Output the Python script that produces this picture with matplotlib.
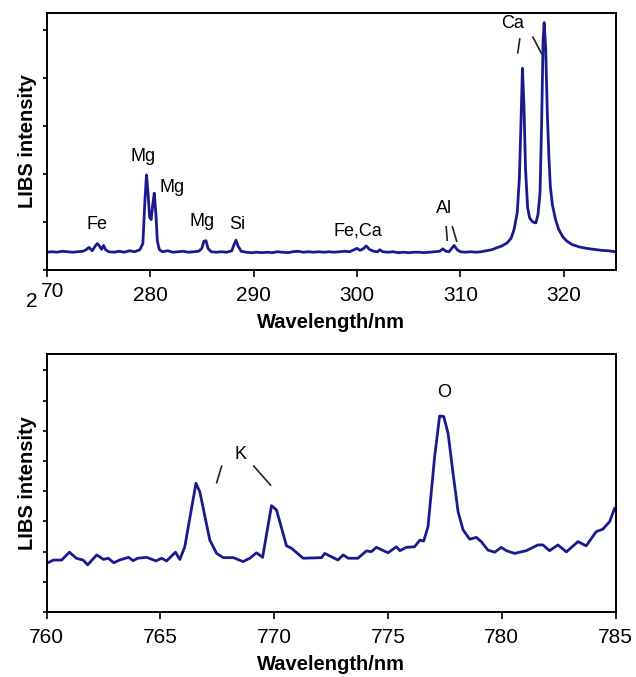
#!/usr/bin/env python

import matplotlib
matplotlib.use('Agg')
import matplotlib.pyplot as plt

plt.rcParams['font.family'] = ['Liberation Sans', 'DejaVu Sans']

# UV spectrum (270-325 nm)
wl_uv = [270.0, 270.5, 271.0, 271.5, 272.0, 272.5, 273.0, 273.5, 273.8, 274.1,
         274.4, 274.7, 274.9, 275.1, 275.3, 275.5, 275.7, 276.0, 276.5, 277.0,
         277.5, 278.0, 278.5, 279.0, 279.3, 279.5, 279.65, 279.8, 279.95, 280.1,
         280.25, 280.4, 280.55, 280.7, 280.9, 281.2, 281.7, 282.2, 282.7, 283.2,
         283.7, 284.2, 284.7, 285.0, 285.2, 285.4, 285.6, 285.9, 286.4, 286.9,
         287.4, 287.9, 288.1, 288.3, 288.5, 288.8, 289.3, 289.8, 290.3, 290.8,
         291.3, 291.8, 292.3, 292.8, 293.3, 293.8, 294.3, 294.8, 295.3, 295.8,
         296.3, 296.8, 297.3, 297.8, 298.3, 298.8, 299.3, 299.7, 300.0, 300.3,
         300.6, 300.9, 301.2, 301.6, 302.0, 302.2, 302.5, 303.0, 303.5, 304.0,
         304.5, 305.0, 305.5, 306.0, 306.5, 307.0, 307.5, 308.0, 308.3, 308.6,
         308.9, 309.2, 309.4, 309.7, 310.0, 310.5, 311.0, 311.5, 312.0, 312.5,
         313.0, 313.5, 314.0, 314.5, 314.9, 315.2, 315.5, 315.7, 315.85, 316.0,
         316.15, 316.3, 316.5, 316.7, 317.0, 317.3, 317.5, 317.7, 317.85, 318.0,
         318.1, 318.25, 318.4, 318.55, 318.7, 318.9, 319.2, 319.5, 319.9, 320.3,
         320.8, 321.5, 322.2, 322.9, 323.6, 324.3, 325.0]
int_uv = [0.37, 0.38, 0.37, 0.39, 0.38, 0.37, 0.38, 0.39, 0.42, 0.47,
          0.40, 0.50, 0.55, 0.50, 0.43, 0.51, 0.42, 0.38, 0.37, 0.39,
          0.37, 0.40, 0.38, 0.42, 0.55, 1.45, 1.98, 1.60, 1.10, 1.05,
          1.35, 1.60, 1.20, 0.60, 0.42, 0.38, 0.40, 0.37, 0.38, 0.39,
          0.37, 0.38, 0.39, 0.45, 0.60, 0.61, 0.45, 0.38, 0.37, 0.38,
          0.37, 0.40, 0.52, 0.62, 0.50, 0.39, 0.37, 0.36, 0.37, 0.36,
          0.37, 0.36, 0.38, 0.37, 0.36, 0.38, 0.39, 0.37, 0.38, 0.37,
          0.38, 0.37, 0.38, 0.37, 0.38, 0.39, 0.38, 0.42, 0.45, 0.41,
          0.44, 0.50, 0.43, 0.39, 0.38, 0.42, 0.38, 0.37, 0.38, 0.36,
          0.37, 0.36, 0.37, 0.37, 0.36, 0.37, 0.38, 0.39, 0.44, 0.39,
          0.38, 0.46, 0.51, 0.42, 0.38, 0.37, 0.38, 0.37, 0.38, 0.40,
          0.42, 0.46, 0.50, 0.56, 0.66, 0.85, 1.20, 1.90, 3.00, 4.20,
          3.40, 2.10, 1.30, 1.08, 1.00, 0.98, 1.15, 1.60, 3.00, 4.80,
          5.15, 4.60, 3.30, 2.40, 1.73, 1.35, 1.05, 0.85, 0.69, 0.60,
          0.53, 0.48, 0.45, 0.43, 0.41, 0.40, 0.38]

# NIR spectrum (760-785 nm)
wl_ir = [760.0, 760.3, 760.66, 761.0, 761.3, 761.6, 761.8, 762.2, 762.5, 762.7,
         762.95, 763.2, 763.6, 763.8, 764.0, 764.4, 764.8, 765.05, 765.27, 765.66,
         765.85, 766.07, 766.56, 766.73, 767.17, 767.47, 767.76, 768.2, 768.63, 768.93,
         769.22, 769.49, 769.88, 770.1, 770.54, 770.76, 771.27, 772.08, 772.22, 772.8,
         773.03, 773.25, 773.68, 774.05, 774.27, 774.49, 775.0, 775.37, 775.52, 775.81,
         776.17, 776.4, 776.57, 776.76, 777.05, 777.27, 777.45, 777.64, 777.86, 778.08,
         778.3, 778.59, 778.88, 779.1, 779.39, 779.69, 779.98, 780.2, 780.57, 781.08,
         781.59, 781.81, 782.1, 782.47, 782.84, 783.35, 783.71, 784.15, 784.44, 784.74,
         784.96]
int_ir = [1.61, 1.72, 1.72, 1.98, 1.78, 1.72, 1.56, 1.89, 1.74, 1.78,
          1.63, 1.72, 1.81, 1.70, 1.78, 1.81, 1.69, 1.78, 1.69, 1.98,
          1.74, 2.16, 4.26, 3.98, 2.38, 1.94, 1.80, 1.80, 1.67, 1.78,
          1.96, 1.81, 3.52, 3.38, 2.19, 2.11, 1.78, 1.80, 1.94, 1.72,
          1.89, 1.78, 1.78, 2.02, 2.00, 2.14, 1.96, 2.16, 2.03, 2.14,
          2.16, 2.38, 2.35, 2.83, 5.14, 6.49, 6.47, 5.92, 4.59, 3.32,
          2.72, 2.41, 2.47, 2.33, 2.05, 1.98, 2.14, 2.03, 1.94, 2.03,
          2.22, 2.22, 2.03, 2.22, 1.99, 2.33, 2.19, 2.66, 2.74, 2.99,
          3.43]

# peak labels: (text, x, y)
labels_uv = [('Fe', 274.9, 0.94), ('Mg', 279.33, 2.36), ('Mg', 282.17, 1.71),
             ('Mg', 284.98, 1.01), ('Si', 288.42, 0.95), ('Fe,Ca', 300.1, 0.81),
             ('Al', 308.4, 1.28), ('Ca', 315.0, 5.14)]
labels_ir = [('K', 768.52, 5.2), ('O', 777.45, 7.27)]

# little pointer strokes next to labels: (x0, y0, x1, y1)
marks_uv = [(315.55, 4.52, 315.74, 4.81), (317.01, 4.85, 317.83, 4.51),
            (308.73, 0.62, 308.63, 0.90), (309.23, 0.90, 309.64, 0.60)]
marks_ir = [(767.47, 4.28, 767.69, 4.83), (769.1, 4.83, 769.84, 4.2)]

line_color = '#1a1a8e'

fig = plt.figure(figsize=(6.36, 6.77), dpi=100)
ax1 = fig.add_axes([0.0734, 0.6012, 0.8944, 0.3796])
ax2 = fig.add_axes([0.0734, 0.0960, 0.8944, 0.3811])


def style_axes(ax):
    for s in ax.spines.values():
        s.set_linewidth(1.4)
    ax.tick_params(axis='x', direction='out', length=5, width=1.2,
                   labelsize=15, pad=6.5, top=False)
    ax.tick_params(axis='y', direction='out', length=3, width=1.2,
                   labelleft=False, right=False)
    ax.set_xlabel('Wavelength/nm', fontsize=14.5, fontweight='bold', labelpad=6)
    ax.set_ylabel('LIBS intensity', fontsize=14.5, fontweight='bold', labelpad=4)


# Top panel
ax1.plot(wl_uv, int_uv, color=line_color, linewidth=2.0)
ax1.set_xlim(270, 325)
ax1.set_ylim(0, 5.35)
ax1.set_xticks([270, 280, 290, 300, 310, 320])
ax1.set_xticklabels(['', '280', '290', '300', '310', '320'])
ax1.set_yticks(range(0, 6))
style_axes(ax1)
# broken "270" label as in the original
ax1.text(270.6, -0.24, '70', fontsize=15, ha='center', va='top', clip_on=False)
ax1.text(268.6, -0.46, '2', fontsize=15, ha='center', va='top', clip_on=False)
for t, x, y in labels_uv:
    ax1.text(x, y, t, fontsize=13, ha='center', va='center')
for x0, y0, x1, y1 in marks_uv:
    ax1.plot([x0, x1], [y0, y1], color='#222222', linewidth=1.2)

# Bottom panel
ax2.plot(wl_ir, int_ir, color=line_color, linewidth=2.0)
ax2.set_xlim(760, 785)
ax2.set_ylim(0, 8.54)
ax2.set_xticks([760, 765, 770, 775, 780, 785])
ax2.set_yticks(range(0, 9))
style_axes(ax2)
for t, x, y in labels_ir:
    ax2.text(x, y, t, fontsize=13, ha='center', va='center')
for x0, y0, x1, y1 in marks_ir:
    ax2.plot([x0, x1], [y0, y1], color='#222222', linewidth=1.2)

plt.savefig('out.png', dpi=100)
